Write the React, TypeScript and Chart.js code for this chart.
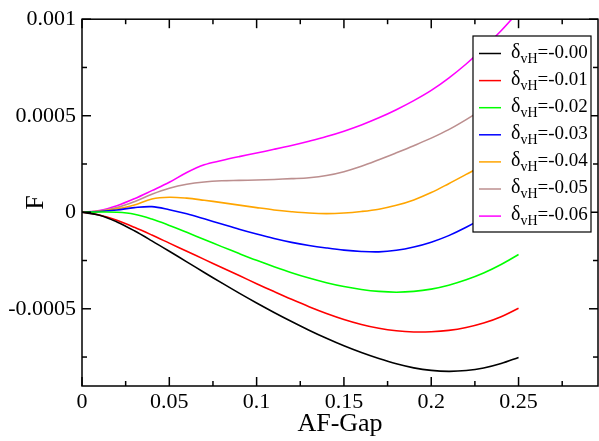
import React, { useEffect, useRef } from 'react';
import { Chart, registerables } from 'chart.js';

Chart.register(...registerables);

// ---- data (F values, in units of 1e-6) ----
const xValues = [0, 0.01, 0.02, 0.03, 0.04, 0.05, 0.06, 0.07, 0.08, 0.09, 0.1, 0.11, 0.12, 0.13, 0.14, 0.15, 0.16, 0.17, 0.18, 0.19, 0.2, 0.21, 0.22, 0.23, 0.24, 0.25];

const d000 = [0, -15, -50, -96, -148, -202, -257, -312, -366, -419, -470, -519, -566, -611, -653, -692, -727, -758, -785, -806, -819, -824, -820, -807, -784, -752];
const d001 = [0, -14, -42, -78, -118, -160, -202, -244, -286, -328, -370, -411, -451, -489, -524, -555, -581, -601, -614, -620, -619, -612, -597, -574, -541, -497];
const d002 = [0, 1, 0, -10, -35, -68, -104, -141, -178, -214, -249, -282, -313, -341, -365, -385, -400, -410, -414, -410, -398, -378, -350, -315, -271, -219];
const d003 = [0, 4, 12, 24, 29, 13, -8, -34, -61, -88, -113, -136, -156, -172, -185, -196, -203, -205, -197, -180, -155, -121, -78, -28, 30, 95];
const d004 = [0, 5, 18, 38, 69, 78, 73, 62, 50, 37, 24, 12, 3, -4, -7, -4, 4, 16, 36, 64, 102, 148, 196, 245, 298, 355];
const d005 = [0, 6, 24, 55, 93, 124, 145, 157, 163, 165, 167, 170, 174, 179, 190, 210, 238, 272, 308, 345, 384, 428, 480, 537, 598, 662];
const d006 = [0, 9, 34, 70, 112, 155, 206, 246, 268, 288, 307, 326, 346, 368, 392, 420, 452, 489, 531, 578, 631, 695, 768, 850, 940, 1040];

const seriesValues = [d000, d001, d002, d003, d004, d005, d006];
const seriesLabels = ['=-0.00', '=-0.01', '=-0.02', '=-0.03', '=-0.04', '=-0.05', '=-0.06'];
const seriesColors = ['#000000', '#ff0000', '#00ff00', '#0000ff', '#ffa500', '#bc8f8f', '#ff00ff'];
const valueUnit = 1e-6;

const xTickValues = [0, 0.05, 0.1, 0.15, 0.2, 0.25];
const xTickLabels = ['0', '0.05', '0.1', '0.15', '0.2', '0.25'];
const xMinorTicks = [0.025, 0.075, 0.125, 0.175, 0.225, 0.275];
const yTickValues = [-0.0005, 0, 0.0005, 0.001];
const yTickLabels = ['-0.0005', '0', '0.0005', '0.001'];
const yMinorTicks = [-0.00075, -0.00025, 0.00025, 0.00075];

const xMin = 0;
const xMax = 0.2955;
const yMin = -0.0009;
const yMax = 0.001;

const xTitle = 'AF-Gap';
const yTitle = 'F';

const FONT = '"Liberation Serif", "Times New Roman", serif';

const decorPlugin = {
  id: 'decor',
  afterDatasetsDraw(chart: any) {
    const { ctx, chartArea } = chart;
    const { left, right, top, bottom } = chartArea;
    const xs = chart.scales.x;
    const ys = chart.scales.y;
    ctx.save();
    ctx.strokeStyle = '#000';
    ctx.lineWidth = 1.5;
    ctx.strokeRect(left, top, right - left, bottom - top);
    const tick = (x1: number, y1: number, x2: number, y2: number) => {
      ctx.beginPath();
      ctx.moveTo(x1, y1);
      ctx.lineTo(x2, y2);
      ctx.stroke();
    };
    xTickValues.forEach((v) => {
      const p = xs.getPixelForValue(v);
      tick(p, bottom, p, bottom - 9);
      tick(p, top, p, top + 9);
    });
    xMinorTicks.forEach((v) => {
      const p = xs.getPixelForValue(v);
      tick(p, bottom, p, bottom - 5);
      tick(p, top, p, top + 5);
    });
    yTickValues.forEach((v) => {
      const p = ys.getPixelForValue(v);
      tick(left, p, left + 9, p);
      tick(right, p, right - 9, p);
    });
    yMinorTicks.forEach((v) => {
      const p = ys.getPixelForValue(v);
      tick(left, p, left + 5, p);
      tick(right, p, right - 5, p);
    });

    // axis titles
    ctx.fillStyle = '#000';
    ctx.font = `26px ${FONT}`;
    ctx.textAlign = 'center';
    ctx.textBaseline = 'alphabetic';
    ctx.fillText(xTitle, (left + right) / 2, 431);
    ctx.save();
    ctx.translate(43, (top + bottom) / 2);
    ctx.rotate(-Math.PI / 2);
    ctx.fillText(yTitle, 0, 0);
    ctx.restore();

    // legend
    const lx = 473, ly = 36, lw = 118, lh = 196;
    ctx.fillStyle = '#fff';
    ctx.fillRect(lx, ly, lw, lh);
    ctx.lineWidth = 1.2;
    ctx.strokeStyle = '#000';
    ctx.strokeRect(lx, ly, lw, lh);
    seriesLabels.forEach((lab, i) => {
      const cy = 53.5 + i * 27.1;
      ctx.strokeStyle = seriesColors[i];
      ctx.lineWidth = 1.5;
      ctx.beginPath();
      ctx.moveTo(479, cy);
      ctx.lineTo(501, cy);
      ctx.stroke();
      ctx.fillStyle = '#000';
      ctx.textAlign = 'left';
      ctx.textBaseline = 'alphabetic';
      ctx.font = `20px ${FONT}`;
      let x = 511;
      ctx.fillText('δ', x, cy + 4);
      x += ctx.measureText('δ').width;
      ctx.font = `14px ${FONT}`;
      ctx.fillText('vH', x, cy + 9);
      x += ctx.measureText('vH').width;
      ctx.font = `19px ${FONT}`;
      ctx.fillText(lab, x, cy + 4);
    });
    ctx.restore();
  },
};

export default function App() {
  const ref = useRef<HTMLCanvasElement | null>(null);
  useEffect(() => {
    if (!ref.current) return;
    const chart = new Chart(ref.current, {
      type: 'line',
      data: {
        datasets: seriesValues.map((vals, i) => ({
          label: seriesLabels[i],
          data: vals.map((v, j) => ({ x: xValues[j], y: v * valueUnit })),
          borderColor: seriesColors[i],
          backgroundColor: seriesColors[i],
          borderWidth: 1.6,
          pointRadius: 0,
          fill: false,
          tension: 0.35,
        })),
      },
      options: {
        animation: false,
        responsive: false,
        devicePixelRatio: 1,
        layout: { padding: { top: 12, right: 1, left: 0, bottom: 0 } },
        plugins: { legend: { display: false }, tooltip: { enabled: false } },
        scales: {
          x: {
            type: 'linear',
            min: xMin,
            max: xMax,
            grid: { display: false, drawTicks: false },
            border: { display: false },
            afterBuildTicks: (s: any) => {
              s.ticks = xTickValues.map((v) => ({ value: v }));
            },
            afterFit: (s: any) => {
              s.height = 55;
            },
            ticks: {
              padding: 3,
              maxRotation: 0,
              autoSkip: false,
              color: '#000',
              font: { family: FONT, size: 22 },
              callback: (_v: any, i: number) => xTickLabels[i],
            },
          },
          y: {
            type: 'linear',
            min: yMin,
            max: yMax,
            grid: { display: false, drawTicks: false },
            border: { display: false },
            afterBuildTicks: (s: any) => {
              s.ticks = yTickValues.map((v) => ({ value: v }));
            },
            afterFit: (s: any) => {
              s.width = 82;
            },
            ticks: {
              padding: 6,
              autoSkip: false,
              color: '#000',
              font: { family: FONT, size: 22 },
              callback: (_v: any, i: number) => yTickLabels[i],
            },
          },
        },
      },
      plugins: [decorPlugin],
    });
    return () => chart.destroy();
  }, []);
  return (
    <div style={{ position: 'absolute', left: 0, top: 0, width: 599, height: 441, background: '#fff' }}>
      <canvas ref={ref} width={599} height={441} style={{ display: 'block', width: 599, height: 441 }} />
    </div>
  );
}
